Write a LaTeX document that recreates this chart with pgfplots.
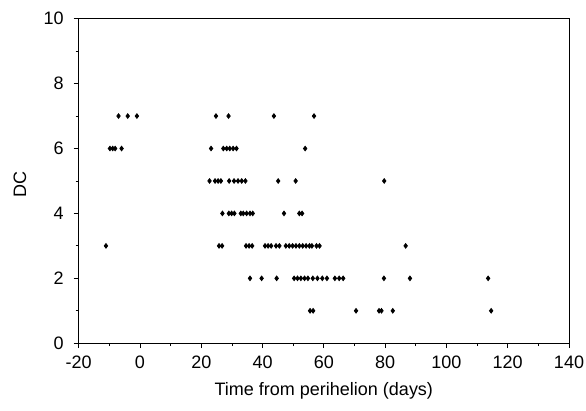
\documentclass[border=0pt]{standalone}
\usepackage{fontspec}
\setmainfont{Liberation Sans}
\usepackage{pgfplots}
\pgfplotsset{compat=1.18}
\pgfplotstableread{
x y
-7 7
-4 7
-1 7
24.8 7
28.9 7
43.7 7
56.8 7
-9.8 6
-8.9 6
-8.1 6
-6.0 6
23.2 6
27.2 6
28.3 6
29.3 6
30.4 6
31.5 6
53.9 6
22.7 5
24.5 5
25.5 5
26.4 5
29.1 5
30.7 5
32.0 5
33.2 5
34.4 5
45.1 5
50.8 5
79.7 5
26.9 4
29.0 4
29.9 4
30.8 4
32.9 4
33.7 4
34.8 4
35.9 4
36.8 4
47.0 4
52.0 4
52.9 4
-11.1 3
25.8 3
26.8 3
34.6 3
35.6 3
36.6 3
40.8 3
41.8 3
42.8 3
44.4 3
45.5 3
47.6 3
48.7 3
49.8 3
50.9 3
52.0 3
53.1 3
54.2 3
55.3 3
56.1 3
57.6 3
58.6 3
86.7 3
35.9 2
39.7 2
44.6 2
50.3 2
51.4 2
52.5 2
53.7 2
54.8 2
56.4 2
57.9 2
59.5 2
61.0 2
63.6 2
65.0 2
66.3 2
79.6 2
88.1 2
113.6 2
55.5 1
56.5 1
70.5 1
78.0 1
78.8 1
82.5 1
114.6 1
}\dctable
\begin{document}
\begin{tikzpicture}
\begin{axis}[
  scale only axis, width=245.2pt, height=162.3pt,
  xmin=-20, xmax=140, ymin=0, ymax=10,
  xtick={-20,0,...,140}, ytick={0,2,...,10},
  minor x tick num=1, minor y tick num=1,
  tick align=outside, xtick pos=bottom, ytick pos=left,
  major tick length=2.5pt, minor tick length=1.5pt,
  axis line style={line width=0.5pt},
  tick style={black, line width=0.4pt},
  /pgf/number format/assume math mode=true,
  tick label style={font=\fontsize{9}{10.5}\selectfont},
  yticklabel style={xshift=-1.5pt},
  xticklabel style={yshift=-0.5pt},
  label style={font=\fontsize{9}{10.5}\selectfont},
  xlabel={Time from perihelion (days)},
  ylabel={DC},
  xlabel style={at={(axis description cs:0.5,-0.1468)}, anchor=center},
  ylabel style={at={(axis description cs:-0.1197,0.49)}, anchor=center},
]
\addplot[only marks, mark=diamond*, mark size=1.15pt, black] table[x=x,y=y] {\dctable};
\coordinate (sw) at (rel axis cs:0,0);
\coordinate (ne) at (rel axis cs:1,1);
\end{axis}
\pgfresetboundingbox
\path ([xshift=-39.35pt,yshift=-33.85pt]sw) rectangle ([xshift=8.5pt,yshift=9.35pt]ne);
\end{tikzpicture}
\end{document}
